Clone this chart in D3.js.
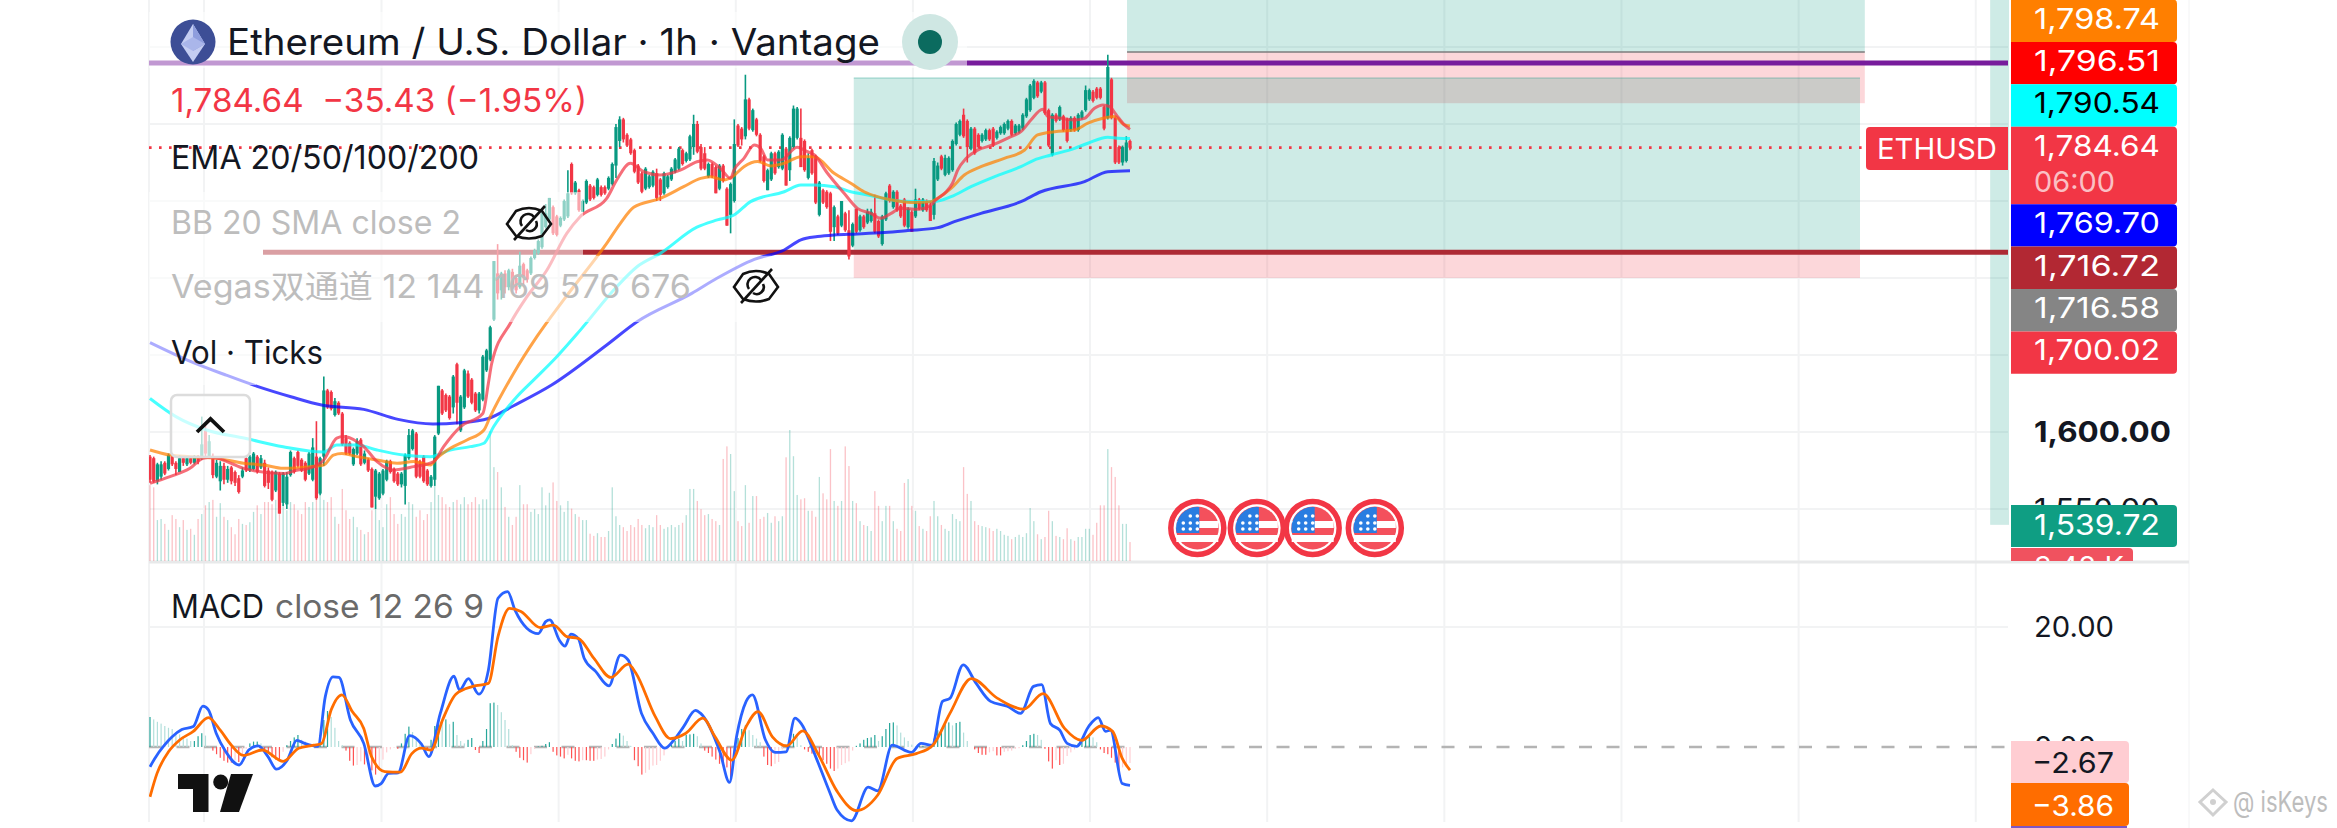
<!DOCTYPE html>
<html>
<head>
<meta charset="utf-8">
<title>ETHUSD 1h</title>
<script src="https://cdn.jsdelivr.net/npm/d3@7"></script>
<style>
  html, body { margin: 0; padding: 0; background: #fff; }
  svg { display: block; }
  text { font-family: Inter, "Noto Sans CJK SC", sans-serif; }
</style>
</head>
<body>
<svg id="chart" width="2337" height="828"></svg>
<script>
// Candles (one per hour, oldest first)
var candleOpen = [
  1584,1583,1568,1571,1580,1576,1584,1580,1574,1583, 1579,1583,1580,1584,1583,1601,1584,1583,1571,1568,
  1578,1569,1577,1574,1570,1571,1583,1575,1576,1584, 1577,1580,1575,1574,1562,1573,1554,1553,1572,1583,
  1587,1582,1580,1573,1569,1584,1560,1584,1627,1626, 1611,1619,1612,1596,1593,1579,1586,1595,1580,1582,
  1576,1558,1557,1560,1569,1581,1576,1573,1566,1565, 1583,1589,1599,1581,1584,1575,1565,1569,1599,1627,
  1624,1623,1616,1644,1601,1616,1638,1634,1625,1614, 1621,1640,1647,1673,1703,1692,1703,1694,1704,1700,
  1694,1709,1705,1703,1713,1716,1720,1733,1738,1746, 1740,1734,1738,1740,1774,1755,1757,1743,1749,1760,
  1759,1754,1759,1759,1758,1761,1773,1789,1803,1793, 1790,1783,1773,1768,1758,1759,1760,1768,1764,1755,
  1759,1764,1769,1771,1783,1776,1777,1785,1800,1785, 1781,1766,1774,1772,1758,1773,1758,1741,1750,1799,
  1797,1792,1816,1796,1803,1793,1779,1757,1764,1781, 1772,1771,1784,1770,1785,1791,1791,1789,1765,1783,
  1779,1741,1757,1756,1755,1733,1740,1734,1742,1731, 1721,1745,1731,1740,1736,1737,1742,1737,1722,1738,
  1760,1746,1756,1747,1751,1733,1743,1740,1751,1744, 1750,1747,1741,1764,1779,1767,1768,1770,1787,1793,
  1806,1802,1784,1797,1793,1789,1790,1796,1797,1791, 1794,1794,1797,1802,1794,1795,1797,1805,1809,1817,
  1827,1821,1827,1809,1780,1806,1803,1805,1803,1796, 1804,1796,1804,1809,1816,1821,1823,1823,1811,1804,
  1829,1804,1785,1775,1776,1789
]
var candleClose = [
  1569,1568,1579,1579,1573,1585,1579,1576,1583,1580, 1583,1580,1584,1581,1592,1586,1594,1572,1580,1578,
  1569,1576,1568,1567,1561,1575,1575,1584,1586,1574, 1583,1565,1567,1556,1574,1547,1573,1571,1587,1574,
  1578,1575,1569,1586,1590,1557,1583,1627,1616,1615, 1620,1612,1592,1586,1586,1589,1594,1579,1586,1575,
  1551,1575,1573,1575,1581,1574,1568,1566,1573,1585, 1598,1601,1571,1571,1568,1566,1571,1597,1630,1612,
  1614,1609,1636,1619,1623,1640,1623,1619,1614,1625, 1649,1653,1668,1711,1690,1703,1694,1705,1695,1692,
  1708,1701,1699,1713,1718,1724,1742,1742,1752,1729, 1728,1739,1750,1755,1755,1762,1744,1750,1763,1751,
  1752,1764,1754,1755,1765,1774,1798,1803,1790,1786, 1781,1769,1762,1756,1771,1766,1769,1752,1754,1768,
  1766,1771,1777,1784,1774,1781,1792,1800,1782,1771, 1771,1774,1766,1755,1773,1763,1734,1761,1787,1786,
  1790,1816,1797,1809,1793,1776,1763,1770,1781,1768, 1782,1793,1760,1791,1810,1810,1772,1770,1778,1768,
  1749,1762,1749,1746,1730,1746,1729,1750,1731,1714, 1735,1730,1740,1733,1743,1743,1730,1727,1740,1755,
  1750,1756,1744,1740,1734,1745,1730,1751,1745,1751, 1744,1737,1776,1773,1771,1778,1778,1789,1800,1802,
  1792,1785,1797,1781,1785,1793,1796,1790,1786,1795, 1798,1800,1802,1793,1799,1799,1806,1816,1825,1828,
  1818,1827,1807,1786,1806,1802,1811,1796,1789,1804, 1796,1806,1808,1822,1822,1815,1817,1817,1797,1837,
  1804,1775,1775,1785,1788,1784.64
]
var candleHigh = [
  1585,1584,1580,1581,1581,1586,1585,1581,1585,1584, 1584,1584,1585,1585,1610,1605,1598,1586,1582,1581,
  1580,1578,1578,1575,1572,1577,1584,1585,1587,1585, 1585,1582,1577,1575,1575,1574,1574,1574,1588,1584,
  1588,1583,1581,1587,1596,1607,1584,1636,1628,1627, 1622,1620,1613,1598,1594,1590,1596,1596,1588,1583,
  1577,1576,1574,1576,1582,1582,1577,1574,1574,1586, 1602,1602,1600,1582,1585,1576,1572,1598,1630,1628,
  1625,1624,1637,1645,1624,1641,1640,1635,1626,1626, 1650,1654,1669,1711,1722,1704,1705,1706,1706,1701,
  1717,1710,1706,1714,1719,1725,1743,1748,1752,1747, 1741,1740,1751,1770,1775,1763,1758,1751,1764,1761,
  1760,1765,1760,1760,1766,1775,1800,1805,1804,1794, 1791,1784,1774,1769,1772,1767,1770,1771,1765,1769,
  1767,1772,1778,1785,1784,1782,1793,1806,1802,1787, 1785,1775,1775,1773,1774,1774,1759,1762,1803,1800,
  1798,1832,1817,1810,1804,1794,1780,1771,1782,1782, 1783,1794,1785,1792,1812,1811,1810,1790,1781,1784,
  1780,1763,1758,1757,1756,1747,1741,1750,1743,1744, 1736,1745,1741,1741,1745,1745,1754,1738,1741,1756,
  1761,1757,1757,1748,1752,1746,1744,1758,1752,1752, 1751,1750,1778,1775,1780,1780,1779,1790,1801,1803,
  1810,1803,1798,1798,1794,1794,1797,1797,1798,1796, 1799,1801,1803,1803,1800,1800,1807,1817,1826,1829,
  1828,1828,1828,1810,1807,1807,1812,1806,1804,1805, 1805,1807,1809,1825,1823,1822,1824,1824,1812,1845,
  1830,1805,1786,1786,1792,1790
]
var candleLow = [
  1567,1567,1566,1569,1572,1575,1578,1572,1574,1578, 1578,1579,1579,1579,1582,1584,1583,1570,1570,1562,
  1566,1567,1566,1565,1560,1570,1574,1574,1575,1573, 1576,1564,1563,1555,1561,1547,1552,1550,1571,1573,
  1577,1574,1568,1572,1568,1556,1559,1578,1615,1614, 1610,1611,1591,1585,1585,1578,1585,1578,1579,1574,
  1551,1550,1556,1559,1568,1573,1567,1565,1564,1553, 1582,1588,1570,1570,1567,1565,1564,1565,1598,1611,
  1613,1608,1612,1605,1600,1615,1622,1618,1613,1612, 1620,1639,1646,1672,1686,1686,1690,1692,1693,1690,
  1693,1695,1697,1702,1712,1715,1719,1732,1736,1728, 1727,1733,1737,1739,1754,1754,1743,1743,1748,1750,
  1751,1753,1753,1754,1757,1760,1765,1785,1788,1785, 1780,1768,1761,1755,1757,1758,1759,1750,1750,1754,
  1758,1763,1768,1770,1773,1775,1776,1780,1781,1770, 1770,1765,1765,1755,1757,1762,1734,1729,1749,1785,
  1786,1790,1796,1795,1792,1775,1762,1757,1763,1767, 1771,1770,1760,1763,1784,1790,1772,1769,1764,1767,
  1748,1740,1748,1745,1724,1724,1728,1733,1730,1712, 1720,1729,1730,1732,1735,1736,1729,1726,1721,1737,
  1749,1745,1743,1739,1733,1732,1730,1739,1744,1743, 1743,1737,1738,1763,1770,1766,1767,1769,1786,1792,
  1791,1775,1783,1780,1784,1788,1789,1789,1785,1790, 1793,1793,1796,1792,1793,1794,1796,1804,1808,1816,
  1817,1820,1806,1785,1779,1801,1802,1795,1788,1795, 1795,1795,1803,1808,1815,1814,1816,1816,1796,1803,
  1803,1774,1774,1773,1775,1783
]
// Volume (K ticks)
var volumes = [
  13.9,13.5,7.5,7.7,6.8,5.7,8.4,7.7,6.2,7.5, 5.7,5.9,4.8,7.7,8.6,10.2,10.8,11.2,8.1,10.6,
  8.1,7.5,6.2,4.9,7.7,6.8,6.6,7.1,9,10.2, 8.6,10.8,10.8,10.4,11.2,8.6,10.4,9.3,10.8,10.4,
  9.3,8.6,10.8,9.9,10.8,11.3,12.1,11.2,10.8,11.7, 8.1,6.8,13.2,9.3,7.7,8.1,6.2,5.7,4.9,5.3,
  9.3,10.4,7.5,6.2,10.4,11.7,8.6,6.8,8.6,8.1, 10.8,10.4,8.1,9.3,7.5,8.6,10.8,16.7,12.1,11.7,
  10.4,9.9,10.8,11.2,10.4,11.7,10.4,10.8,11.7,10.4, 11.3,11.3,23.8,17.2,16.3,13.5,9.9,8.1,6.6,8.1,
  13.9,10.4,10.4,9,9.5,8.6,13.5,10.2,12.5,14.4, 11,10.2,9,11,9.6,8.6,8.1,7.5,7.5,5,
  4.6,5.1,4.4,4.4,5.5,13.5,8.2,6.6,6.2,5.5, 6.6,6.2,7.7,6.6,6,6.6,6.2,8.4,6.6,5.9,
  6.2,6.6,6.2,6.6,7,8.4,13.2,13.2,11,9.5, 8.4,8.6,7.7,7.3,6.6,18.7,21,19.6,12.8,7.3,
  6.4,13.9,7,11.9,11.9,7.7,8.1,8.8,7,8.2, 7.3,8.2,19,24,19.2,12.1,11.3,11.5,9.2,9.2,
  8.1,15.4,12.4,11.3,20.5,11,10.1,11,21,17.4, 11,10.6,7.3,6.6,6.4,5.5,12.8,10.1,7.3,10.1,
  10.1,7.3,5.9,5.5,14.3,15,10.1,9.2,6.4,5.9, 5.5,8.2,11,8.2,6.6,5.9,5.5,8.6,7.7,7.3,
  17.2,12.3,11,7.3,6.6,6.4,6.2,6,5.5,5.9, 5.5,4.8,4.6,4,4.4,4.8,4.4,5.1,9.7,7.3,
  4.9,4,4.4,9.2,7.3,4.6,4.4,4,6,4, 3.7,4.4,4.4,5.9,5.9,4.8,7,10.2,10.2,20.5,
  17.2,15.4,10.2,6.8,6.8,3.48
]
// MACD histogram
var macdHist = [
  5,4.6,4.2,3.9,3.5,3.2,3,2.5,2.1,1.8, 1.4,1,1,1.8,2.3,1.9,.1,-.6,-1.2,-1.8,
  -2.3,-2.6,-2.6,-2.2,-2.5,-1.3,-.3,.6,.9,.9, .6,-.6,-1,-1.7,-2.1,-2.2,-.8,.3,1,1.6,
  2,1.2,.9,.5,.3,.2,2,4.5,6,5, 3.2,1,.3,-.6,-2.3,-3.1,-3,-2.4,-2.9,-2.1,
  -3.9,-4.6,-3.5,-2.1,-.9,-.4,-.1,-.3,.6,2.2, 3.4,2.5,1.4,.9,.2,-.6,1.2,3.5,4.3,4.1,
  4.6,3.8,4.2,2,1,.6,1.2,1.5,-.5,-1, 1,3,7.3,7.4,7,5.8,4.5,3,.3,-.8,
  -1.8,-2.2,-2.6,-1.2,-.3,.1,.2,.5,.8,-.8, -1.4,-1.6,-1.9,-1.3,-1.9,-2.3,-2.4,-2.2,-2.2,-2.3,
  -2.3,-2.1,-2,-1.6,-.4,.5,1.4,2.3,1.9,1, .2,-2.2,-3.2,-4.6,-4.3,-3.8,-3.1,-3,-2.3,-1.4,
  -.4,.4,1,1.4,1,2,2.1,2.2,1.8,.6, -.6,-1,-1.6,-2.1,-2.8,-3,-3.4,-5,-1,1.5,
  3,3.6,2.8,2,1.4,.8,-1.6,-3,-3.2,-2.8, -2.5,-.4,.4,1.8,2.2,1.6,.3,-.4,-.8,-1.1,
  -1,-1.3,-2.2,-2.8,-3.6,-4,-3.6,-3,-2.7,-2.4, -.6,.2,.6,1.2,1.5,1.6,2,1,1.8,3,
  4,4.1,3.6,2.4,1.6,1,.4,.1,.2,.2, 0,.1,1.4,2.8,3,3.8,4.1,3.6,4,4.2,
  2.4,1,0,-.4,-1,-1.3,-1.3,-.9,-.7,-1.4, -1.4,-.8,-.7,-.6,-.3,-.2,.3,1,2,2.2,
  2,1.2,-.3,-2.4,-3.6,-2.2,-3,-2.8,-1.5,-.9, -.4,.6,1,1.5,1.7,1.6,.8,-.4,-1,-1.2,
  -1.8,-2.6,-4.5,-3.4,-3,-2.67
]
// Moving averages: [candle index, price]
var ema20 = [[0,1566.7],[5.4,1571],[10.8,1576.4],[14.4,1583],[16.7,1583.6],[20.8,1580.8],[25.3,1576.4],[36,1573],[40,1575.3],[43,1576.4],[47,1581.8],[50.5,1596],[52.3,1597],[56,1593.7],[57.8,1590.5],[61.4,1580.8],[65.9,1575.4],[71.3,1577.5],[76.7,1580.8],[79.4,1590.5],[84,1603.5],[90,1612],[91.5,1631.6],[92.4,1644.5],[97.4,1670.5],[101.9,1687.8],[107.3,1705],[112.7,1729],[116.3,1739.8],[123.5,1751.7],[126.2,1763.6],[129.9,1774.5],[133.5,1769],[138,1766.9],[143.4,1770],[147.9,1775.5],[150.7,1776.7],[154.3,1771],[157,1764.7],[157.9,1770],[160.6,1777.7],[163.4,1786.4],[165.2,1784],[167,1776.6],[170.6,1776.6],[175,1784.9],[177.8,1782],[179.6,1780],[183.2,1768],[187.7,1755],[191.3,1745.2],[194.9,1742],[197.6,1738.8],[200.4,1742],[203,1745.3],[207.6,1744.6],[211.2,1747.4],[212.5,1750.7],[215.3,1756],[217,1761.5],[218.4,1770],[220.7,1777.7],[223.8,1783],[227.9,1786.4],[232.8,1791.8],[235.5,1795],[238.2,1802.6],[241.4,1809.6],[242.8,1804.8],[246.4,1803.7],[250,1802.6],[252.7,1803.7],[255.4,1810.2],[257.7,1812.4],[259.5,1811.3],[261.3,1805.9],[263.5,1799.4],[265,1796.51]]
var ema50 = [[0,1588.3],[5.4,1585],[10.8,1584],[18,1583],[25.3,1579.7],[30.7,1578.6],[36,1576.4],[43.3,1577.5],[47,1578.6],[49.6,1585],[51.9,1586],[56,1584],[61.4,1581.8],[66.8,1579.7],[71.3,1580.8],[75.8,1578.6],[77.6,1583],[81.2,1589.4],[85.7,1594.8],[90.3,1601.3],[92,1610],[98.3,1638],[104.6,1661.9],[111.8,1685.7],[123.5,1722.5],[127.2,1735.5],[130.8,1745.9],[138,1751.7],[144.3,1759.3],[148.9,1764.7],[151.6,1765.8],[155.2,1763.7],[157.5,1765.8],[160.6,1772.3],[164.3,1775.6],[167.9,1772.8],[171.5,1774.5],[176,1778.8],[179.6,1778.8],[185,1768],[189.5,1761.5],[193.1,1756],[196.7,1752.8],[202.2,1750],[206.7,1749],[211.2,1749.6],[213,1751.8],[216.6,1758.2],[220.2,1766.9],[224.7,1772.3],[231,1777.7],[236.5,1783.1],[240,1792.9],[244.6,1795],[250,1796.1],[253.6,1800.5],[257.7,1803.7],[260.8,1804.8],[263.5,1799.4],[265,1798.74]]
var ema100 = [[0,1621.8],[7,1610],[15.3,1601.3],[25.7,1595.9],[36,1590.4],[47,1587],[50.5,1591.6],[56,1591.6],[61.4,1588.3],[68.6,1585],[75.8,1584],[81.2,1588.3],[86.6,1590.5],[90.3,1592.7],[92.9,1603.4],[99.2,1622.9],[103.7,1633.7],[110,1648.9],[116.3,1666],[126.2,1694.3],[131.7,1707.3],[138,1716],[147.9,1733],[153.4,1737.7],[157.9,1740.9],[162.4,1749.6],[171.5,1756],[176,1760.4],[179.6,1760.4],[185,1759.3],[189.5,1756],[194.1,1753.9],[200.4,1750.7],[206.7,1749.6],[212.1,1749.6],[216.6,1752.8],[222,1759.3],[228.4,1765.8],[235.5,1772.3],[239.1,1776.6],[243.7,1779.9],[250,1784.2],[253.6,1787.5],[259,1791.4],[261.8,1790.7],[265,1790.54]]
var ema200 = [[0,1658],[10.1,1646.7],[20.5,1637],[28.8,1629.8],[38.1,1622.9],[46.4,1617.5],[57.8,1614.7],[67.1,1608.2],[76.5,1605.2],[83.7,1606],[91.5,1608.8],[98.2,1616.9],[108.6,1630.5],[123.5,1656.5],[131.7,1671.6],[146.5,1690],[153.3,1699.8],[163.4,1712.1],[171.5,1718.2],[176,1724.7],[180.5,1726.9],[185,1728],[191.3,1728.6],[198.6,1729.5],[204.9,1730.8],[213,1732.7],[217.5,1736.6],[224.7,1742],[235.5,1749.6],[240.9,1756],[252.7,1762.6],[259,1769],[265,1769.7]]
// MACD and signal: [candle index, value]
var macdLine = [[0,-3.3],[1.3,-1.9],[3.9,.3],[6,1.7],[8.6,2.9],[11.7,3.4],[14.3,6.8],[15.8,6.2],[17.9,2.3],[20.5,-.8],[24.1,-3],[26.7,-.5],[29.3,.2],[31.9,-1.6],[34.2,-3.7],[37.1,-2.2],[39.7,1.1],[41.8,.6],[45.4,.1],[47.4,8.4],[49.5,11.7],[51.1,11.6],[54.2,4.5],[57.8,.6],[60.9,-6.5],[62.5,-6.1],[64.5,-4.4],[67.1,-4.3],[70.2,1.9],[73.4,.5],[75.4,-1.6],[78.5,5.6],[82.2,11.8],[83.7,9.5],[86.1,11.4],[88.9,8.8],[91.5,12.8],[94.1,24.8],[96.7,25.9],[98.7,22.8],[101.9,19.8],[105,18.9],[107,20.9],[108.1,21.2],[110.7,17.8],[112.2,16.8],[113.8,18.8],[115.8,18.1],[117.4,14.8],[120.5,12.6],[124.1,10.2],[127.2,15.3],[129.3,14.5],[132.9,5.6],[136,2.3],[139.2,-.2],[141.7,1.2],[144.3,3.4],[147.5,6.1],[148.9,5.6],[154.1,-.8],[156.7,-5.9],[158.6,1.7],[161.2,7.6],[162.9,8.7],[166.4,1.2],[169,-.9],[172,-.8],[174.4,4.8],[176.1,3.9],[180,-1.6],[183.9,-7.7],[185.8,-10.5],[189.7,-12.3],[194.2,-6.7],[196.8,-7.3],[200.7,.3],[205.9,-.9],[208.5,.6],[211.5,.3],[214.3,7.6],[216.3,8.1],[219.9,13.7],[223.4,10.6],[227.3,7.6],[231.8,6.8],[235.4,5.6],[238.9,10.1],[241.1,10.4],[243.5,3.9],[246,2.8],[248,.6],[250.6,.1],[253.8,3.4],[256.4,4.9],[258.4,2.6],[259.7,2.8],[262.9,-6.1],[265,-6.4]]
var signalLine = [[0,-8.3],[1.9,-4.4],[5,-.8],[8.1,1.2],[11.7,2.6],[15.8,4.9],[19,2.8],[22,.3],[25.2,-1.4],[30.4,-.5],[36,-2.4],[40.2,-.2],[44.3,.3],[46.4,.6],[49,6.2],[51.9,8.7],[54.7,5.9],[57.8,3.1],[59.9,-1.6],[63.5,-4.1],[67.7,-4.2],[70.8,-1.1],[73.4,-.2],[76,-.5],[79.1,4.5],[82.7,8.8],[87.3,10.1],[91.5,10.6],[94.1,18.4],[97.2,23.1],[100.3,22.6],[105.5,19.9],[109.1,20.3],[112.7,18.4],[115.8,18.1],[120,14.8],[124.6,11.6],[129.3,13.8],[131.4,12.3],[136.6,5.1],[140.7,1.4],[144.9,2.3],[149.5,4.8],[152.8,1.7],[157.3,-2.2],[161.2,3.4],[164.4,5.9],[168.3,1.7],[172.2,.2],[176.5,2.7],[180.6,-1.1],[185.8,-7.4],[191,-10.6],[196.8,-8],[202,-1.9],[207.2,-1.1],[211.7,.3],[216.3,5.6],[222.1,11.4],[229.2,8.1],[236.3,6.3],[241.5,8.9],[247.3,3.1],[251.9,1.1],[257.1,3.5],[260.3,2.6],[262.9,-1.9],[265,-3.86]]

// Axis ticks and grid
var priceGrid  = [1850, 1800, 1750, 1700, 1650, 1600, 1550]
var priceTicks = [1600, 1550]
var macdTicks  = [20, 0]
var timeGrid   = [14.6, 62.6, 110.5, 158.4, 206.3, 254.2, 302.1, 350, 397.9, 445.8, 493.7]
var eventBars  = [283.2, 299.3, 314.4, 331.2] // economic event flags

// Drawings on the chart, in price / candle units
var purpleLevel = 1839.6
var brownLevel  = 1716.72
var lastPrice   = 1784.64
var longTp      = 1829.9
var longEntry   = 1716.72
var longStop    = 1700.02
var upperTop    = 1890
var upperEntry  = 1846.8
var upperStop   = 1813.5
var stripBottom = 1539.72

// Price tags on the right axis, top to bottom
var tagLabels = ["1,798.74", "1,796.51", "1,790.54", "1,784.64", "1,769.70", "1,716.72", "1,716.58", "1,700.02"]
var tagFills  = ["#ff7f00", "#ff0000", "#00ffff", "#f23645", "#0000ff", "#b22833", "#858585", "#f23645"]
var tagInks   = ["#fff", "#fff", "#000", "#fff", "#fff", "#fff", "#fff", "#fff"]

var upColor   = "#089981",
    downColor = "#f23645",
    gridColor = "#f2f3f4"

var svg = d3.select("#chart")
var defs = svg.append("defs")

defs.append("clipPath").attr("id", "mainClip")
    .append("rect").attr("x", 149).attr("y", 0).attr("width", 1860).attr("height", 561)
defs.append("clipPath").attr("id", "macdClip")
    .append("rect").attr("x", 149).attr("y", 563).attr("width", 1860).attr("height", 262)

// Scales
var x     = d3.scaleLinear().domain([0, 265]).range([150, 1130])
var yP    = d3.scaleLinear().domain([1550, 1850]).range([509, 47])
var yM    = d3.scaleLinear().domain([0, 20]).range([747, 627])
var yVol  = d3.scaleLinear().domain([0, 24]).range([561, 430])
var idx   = d3.range(candleOpen.length)

var main = svg.append("g").attr("clip-path", "url(#mainClip)")
var macd = svg.append("g").attr("clip-path", "url(#macdClip)")

// Grid
svg.insert("g", ":first-child").attr("class", "grid").call(function (g) {
  g.selectAll(".v").data(timeGrid).join("line").attr("class", "v")
    .attr("x1", x).attr("x2", x).attr("y1", 0).attr("y2", 822)
    .attr("stroke", gridColor).attr("stroke-width", 2)
  g.selectAll(".h").data(priceGrid).join("line").attr("class", "h")
    .attr("x1", 149).attr("x2", 2008).attr("y1", yP).attr("y2", yP)
    .attr("stroke", gridColor).attr("stroke-width", 2)
  g.append("line").attr("x1", 149).attr("x2", 2008).attr("y1", yM(20)).attr("y2", yM(20))
    .attr("stroke", gridColor).attr("stroke-width", 2)
  g.append("line").attr("x1", 149).attr("x2", 149).attr("y1", 0).attr("y2", 822)
    .attr("stroke", gridColor).attr("stroke-width", 2)
  g.append("line").attr("x1", 2189).attr("x2", 2189).attr("y1", 0).attr("y2", 828)
    .attr("stroke", gridColor).attr("stroke-width", 1)
  g.append("line").attr("x1", 149).attr("x2", 2189).attr("y1", 562).attr("y2", 562)
    .attr("stroke", "#e8e9ea").attr("stroke-width", 3)
})

// Position zones
function zone (x0, x1, p0, p1, fill) {
  main.append("rect")
    .attr("x", x(x0)).attr("width", x(x1) - x(x0))
    .attr("y", yP(p0)).attr("height", yP(p1) - yP(p0))
    .attr("fill", fill)
}
var teal = "rgba(8,153,129,.2)",
    pink = "rgba(242,54,69,.2)"
zone(190.3, 462.4, longEntry, longStop, pink)
zone(264.2, 463.7, upperEntry, upperStop, pink)
zone(190.3, 462.4, longTp, longEntry, teal)
zone(264.2, 463.7, upperTop, upperEntry, teal)
zone(497.6, 503, upperTop, stripBottom, teal)
main.append("line").attr("x1", x(264.2)).attr("x2", x(463.7))
    .attr("y1", yP(upperEntry)).attr("y2", yP(upperEntry))
    .attr("stroke", "#7d7d7d").attr("stroke-width", 1.5)
main.append("line").attr("x1", x(190.3)).attr("x2", x(462.4))
    .attr("y1", yP(longTp)).attr("y2", yP(longTp))
    .attr("stroke", "#089981").attr("stroke-opacity", .25).attr("stroke-width", 1.5)

// Level lines
main.append("line").attr("x1", 149).attr("x2", 2008)
    .attr("y1", yP(purpleLevel)).attr("y2", yP(purpleLevel))
    .attr("stroke", "#771c9c").attr("stroke-width", 5)
main.append("line").attr("x1", 263).attr("x2", 2008)
    .attr("y1", yP(brownLevel)).attr("y2", yP(brownLevel))
    .attr("stroke", "#ad2a34").attr("stroke-width", 5)
main.append("line").attr("x1", 149).attr("x2", 1866)
    .attr("y1", yP(lastPrice)).attr("y2", yP(lastPrice))
    .attr("stroke", downColor).attr("stroke-width", 2.6).attr("stroke-dasharray", "2.6 7.4")

// Volume
function isUp (i) { return candleClose[i] >= candleOpen[i] }
main.append("g").selectAll("rect").data(idx).join("rect")
  .attr("x", function (i) { return x(i) - .65 })
  .attr("width", 1.3)
  .attr("y", function (i) { return yVol(volumes[i]) })
  .attr("height", function (i) { return yVol(0) - yVol(volumes[i]) })
  .attr("fill", function (i) { return isUp(i) ? upColor : downColor })
  .attr("fill-opacity", .3)

// Moving averages go over the candles
var line = d3.line()
    .x(function (d) { return x(d[0]) })
    .y(function (d) { return yP(d[1]) })
    .curve(d3.curveMonotoneX)
var emaSeries = [[ema200, "#0000ff"], [ema100, "#00ffff"], [ema50, "#ff7f00"], [ema20, "#f23645"]]

// Candles
var candles = main.append("g")
candles.selectAll(".wick").data(idx).join("line").attr("class", "wick")
  .attr("x1", x).attr("x2", x)
  .attr("y1", function (i) { return yP(candleHigh[i]) })
  .attr("y2", function (i) { return yP(candleLow[i]) })
  .attr("stroke", function (i) { return isUp(i) ? upColor : downColor })
  .attr("stroke-width", 1.6)
candles.selectAll(".body").data(idx).join("rect").attr("class", "body")
  .attr("x", function (i) { return x(i) - 1.6 })
  .attr("width", 3.2)
  .attr("y", function (i) { return yP(Math.max(candleOpen[i], candleClose[i])) })
  .attr("height", function (i) { return Math.max(1, Math.abs(yP(candleOpen[i]) - yP(candleClose[i]))) })
  .attr("fill", function (i) { return isUp(i) ? upColor : downColor })

main.append("g").selectAll("path").data(emaSeries).join("path")
  .attr("d", function (d) { return line(d[0]) })
  .attr("fill", "none")
  .attr("stroke", function (d) { return d[1] })
  .attr("stroke-opacity", .72)
  .attr("stroke-width", 3)

// Legend rows wash out what is under them
function wash (x0, y0, w, h) {
  svg.append("rect").attr("x", x0).attr("y", y0).attr("width", w).attr("height", h)
     .attr("fill", "#fff").attr("fill-opacity", .55)
}
wash(149, 12, 818, 56)
wash(149, 192, 434, 64)
wash(149, 256, 623, 66)
wash(149, 322, 107, 63)

// MACD pane
macd.append("line").attr("x1", 149).attr("x2", 2008).attr("y1", yM(0)).attr("y2", yM(0))
    .attr("stroke", "#b4b4b4").attr("stroke-width", 2.5).attr("stroke-dasharray", "13 14.5")
macd.append("g").selectAll("rect").data(idx).join("rect")
  .attr("x", function (i) { return x(i) - .6 })
  .attr("width", 1.2)
  .attr("y", function (i) { return yM(Math.max(macdHist[i], 0)) })
  .attr("height", function (i) { return Math.abs(yM(macdHist[i]) - yM(0)) })
  .attr("fill", function (i) {
    var v = macdHist[i], prev = i ? macdHist[i - 1] : v
    if (v >= 0) return v >= prev ? "#26a69a" : "#b2dfdb"
    return v <= prev ? "#ff5252" : "#ffcdd2"
  })
var macdPath = d3.line()
    .x(function (d) { return x(d[0]) })
    .y(function (d) { return yM(d[1]) })
    .curve(d3.curveMonotoneX)
macd.append("path").attr("d", macdPath(macdLine))
    .attr("fill", "none").attr("stroke", "#2962ff").attr("stroke-width", 2.8)
macd.append("path").attr("d", macdPath(signalLine))
    .attr("fill", "none").attr("stroke", "#ff6d00").attr("stroke-width", 2.8)

// Collapse button
svg.append("rect").attr("x", 171).attr("y", 395).attr("width", 79).attr("height", 62).attr("rx", 6)
   .attr("fill", "#fff").attr("fill-opacity", .7)
   .attr("stroke", "#dcdcdc").attr("stroke-width", 2.5)
svg.append("path").attr("d", "M197,432L210.5,419L224,432")
   .attr("fill", "none").attr("stroke", "#111").attr("stroke-width", 3.8)

// Event flags
var flags = svg.append("g").selectAll("g").data(eventBars).join("g")
  .attr("transform", function (d) { return "translate(" + x(d) + ",528)" })
flags.append("circle").attr("r", 26.5).attr("fill", "#fff").attr("stroke", "#f23645").attr("stroke-width", 5.5)
flags.append("circle").attr("r", 21.5).attr("fill", "#f4505c")
flags.append("rect").attr("x", -21).attr("y", -7).attr("width", 42).attr("height", 7).attr("fill", "#fff")
flags.append("rect").attr("x", -21).attr("y", 7).attr("width", 42).attr("height", 7).attr("fill", "#fff")
flags.append("path").attr("d", "M2,5H-20.6A21,21 0 0 1 2,-20.9Z").attr("fill", "#2a7de1")
flags.each(function () {
  var f = d3.select(this)
  ;[-15, -8, -1].forEach(function (sx) {
    ;[-12, -5, 1].forEach(function (sy) {
      if (sx === -15 && sy === -12) return
      f.append("circle").attr("cx", sx + 1).attr("cy", sy).attr("r", 1.8).attr("fill", "#fff")
    })
  })
})

// Hidden-eye icons
function eye (cx, cy) {
  var g = svg.append("g").attr("transform", "translate(" + cx + "," + cy + ")")
     .attr("fill", "none").attr("stroke", "#111").attr("stroke-width", 2.6)
  g.append("path").attr("d", "M-22,1L-13,-12Q0,-18 13,-12L22,1L13,13Q0,18 -13,13Z")
  g.append("path").attr("d", "M-7,3A7,7 0 0 1 5,-6M7,-2A7,7 0 0 1 -3,7")
  g.append("line").attr("x1", -15).attr("y1", 17).attr("x2", 16).attr("y2", -17)
}
eye(529, 223)
eye(756, 286)

// Symbol logo and status dot
svg.append("circle").attr("cx", 193).attr("cy", 42).attr("r", 22.5).attr("fill", "#3d4e96")
svg.append("path").attr("d", "M193,24L205,44L193,62L181,44Z").attr("fill", "#c4cdf2")
svg.append("path").attr("d", "M193,24L205,44L193,51Z").attr("fill", "#8e9ddd")
svg.append("path").attr("d", "M181,44L193,37L205,44L193,51Z").attr("fill", "#aab6ea")
svg.append("circle").attr("cx", 930).attr("cy", 42).attr("r", 28).attr("fill", "#cfe7e3")
svg.append("circle").attr("cx", 930).attr("cy", 42).attr("r", 12).attr("fill", "#0b6b5f")

// Legend text
function label (txt, tx, ty, size, fill, width, weight) {
  var t = svg.append("text").attr("x", tx).attr("y", ty)
     .attr("font-size", size).attr("fill", fill).text(txt)
  if (width) t.attr("textLength", width).attr("lengthAdjust", "spacingAndGlyphs")
  if (weight) t.attr("font-weight", weight)
  return t
}
label("Ethereum / U.S. Dollar · 1h · Vantage", 227, 55, 37, "#131722", 653)
label("1,784.64  −35.43 (−1.95%)", 171, 112, 32.5, downColor, 416).attr("xml:space", "preserve")
label("EMA 20/50/100/200", 171, 169, 32.5, "#131722", 308)
label("BB 20 SMA close 2", 171, 234, 32.5, "#bdbdbd", 290)
label("Vegas双通道 12 144 169 576 676", 171, 298, 32, "#bdbdbd", 520)
label("Vol · Ticks", 171, 364, 32.5, "#131722", 152)
label("MACD", 171, 618, 32.5, "#131722", 93)
label("close 12 26 9", 275, 618, 32.5, "#6a6a6a", 209)

// TradingView logo
svg.append("path").attr("d", "M178,774H208.5V812H193V789H178Z").attr("fill", "#111")
svg.append("circle").attr("cx", 220.7).attr("cy", 782).attr("r", 7.5).attr("fill", "#111")
svg.append("path").attr("d", "M231,774H253L239,812H220Z").attr("fill", "#111")

// Right axis
var axisText = 2034, tagX = 2011, tagW = 166
var tagRow = 42.4, tagTop = -0.5
var tagY = tagTop
tagLabels.forEach(function (txt, i) {
  var h = i === 3 ? 77.5 : tagRow
  svg.append("path")
     .attr("d", "M" + tagX + "," + tagY + "H" + (tagX + tagW - 4) + "a4,4 0 0 1 4,4V" + (tagY + h - 4) +
                "a4,4 0 0 1 -4,4H" + tagX + "Z")
     .attr("fill", tagFills[i])
  label(txt, axisText, tagY + 29, 29, tagInks[i], 126)
  if (i === 3) label("06:00", axisText, tagY + 65, 29, "#fff", 81).attr("fill-opacity", .7)
  tagY += h
})

// Symbol tag
svg.append("path").attr("d", "M2008,127H1870a4,4 0 0 0 -4,4V166a4,4 0 0 0 4,4H2008Z").attr("fill", downColor)
label("ETHUSD", 1877, 159, 29, "#fff", 120)

// Price ticks
svg.selectAll(".ptick").data(priceTicks).join("text").attr("class", "ptick")
  .attr("x", axisText)
  .attr("y", function (d) { return yP(d) + 10 })
  .attr("font-size", 29)
  .attr("font-weight", function (d) { return d === 1600 ? 700 : 400 })
  .attr("fill", "#131722")
  .attr("textLength", function (d) { return d === 1600 ? 137 : 126 })
  .attr("lengthAdjust", "spacingAndGlyphs")
  .text(d3.format(",.2f"))

// Stop tag, with the volume tag clipped by the pane edge
defs.append("clipPath").attr("id", "axisClip")
    .append("rect").attr("x", 2010).attr("y", 0).attr("width", 180).attr("height", 561)
var axisMain = svg.append("g").attr("clip-path", "url(#axisClip)")
axisMain.append("path").attr("d", "M2011,548H2129a4,4 0 0 1 4,4V580H2011Z").attr("fill", "#f0525f")
axisMain.append("text").attr("x", 2034).attr("y", 577).attr("font-size", 29).attr("fill", "#fff").text("3.48 K")
svg.append("path").attr("d", "M2011,505H2173a4,4 0 0 1 4,4V543a4,4 0 0 1 -4,4H2011Z").attr("fill", "#0f9e83")
label("1,539.72", axisText, 535, 29, "#fff", 126)

// MACD ticks
svg.selectAll(".mtick").data(macdTicks).join("text").attr("class", "mtick")
  .attr("x", axisText)
  .attr("y", function (d) { return yM(d) + 9.5 })
  .attr("font-size", 29)
  .attr("fill", "#131722")
  .attr("textLength", function (d) { return d ? 80 : 62 })
  .attr("lengthAdjust", "spacingAndGlyphs")
  .text(d3.format(".2f"))

// MACD tags
svg.append("path").attr("d", "M2011,741H2125a4,4 0 0 1 4,4V779a4,4 0 0 1 -4,4H2011Z").attr("fill", "#ffcdd2")
label("−2.67", 2032, 773, 29, "#131722", 82)
svg.append("path").attr("d", "M2011,783H2125a4,4 0 0 1 4,4V822a4,4 0 0 1 -4,4H2011Z").attr("fill", "#ff6d00")
label("−3.86", 2032, 816, 29, "#fff", 82)
svg.append("rect").attr("x", 2011).attr("y", 826).attr("width", 116).attr("height", 2).attr("fill", "#7e57c2")

// Watermark
svg.append("path").attr("d", "M2213,790L2226,802L2213,815L2200,802Z")
   .attr("fill", "none").attr("stroke", "#d0d0d0").attr("stroke-width", 3)
svg.append("circle").attr("cx", 2213).attr("cy", 802).attr("r", 3).attr("fill", "#d0d0d0")
label("@ isKeys", 2233, 812, 29, "#bdbdbd", 95)
</script>
</body>
</html>
